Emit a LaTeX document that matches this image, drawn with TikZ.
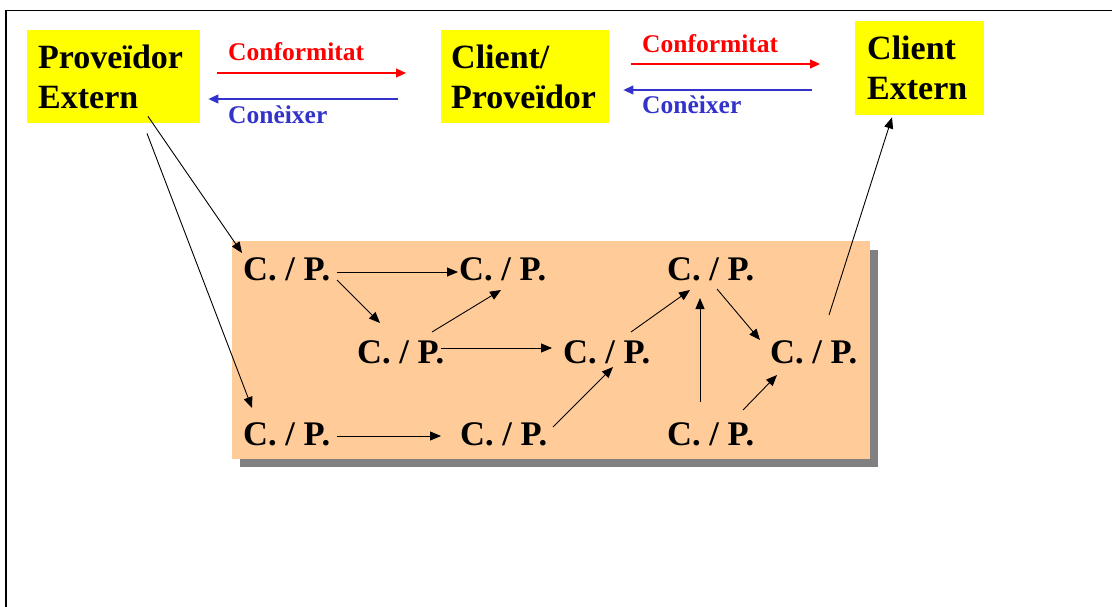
\documentclass[tikz,border=0pt]{standalone}
\usepackage{fontspec}
\setmainfont{Liberation Serif}
\usetikzlibrary{arrows.meta}
\definecolor{boxyellow}{RGB}{255,255,0}
\definecolor{panelorange}{RGB}{255,204,153}
\definecolor{panelshadow}{RGB}{128,128,128}
\definecolor{flowred}{RGB}{255,0,0}
\definecolor{flowblue}{RGB}{51,51,204}
\begin{document}
\begin{tikzpicture}[x=1pt,y=-1pt,
  arr/.style={-{Triangle[length=11pt,width=9pt]}, line width=0.9pt},
  flowarr/.style={-{Triangle[length=10pt,width=9pt]}, line width=1.2pt},
  cpnode/.style={inner sep=0pt, anchor=base west,
    font=\fontsize{34.5}{40}\selectfont\bfseries},
  namebox/.style={fill=boxyellow, anchor=north west, align=left,
    inner ysep=0pt, font=\fontsize{34}{40}\selectfont\bfseries},
  flowlabel/.style={inner sep=0pt, anchor=base west,
    font=\fontsize{25.5}{30}\selectfont\bfseries}]
\clip (0,0) rectangle (1112,606);

% outer frame
\draw[line width=1.8pt] (6,620) -- (6,10.5) -- (1130,10.5);

% external parties and the intermediate client/supplier
\node[namebox, text width=151pt, inner xsep=11pt, minimum height=93pt]
  (pe) at (27,30) {Proveïdor\\Extern};
\node[namebox, text width=148pt, inner xsep=10pt, minimum height=93pt]
  (cp) at (441,30) {Client/\\Proveïdor};
\node[namebox, text width=105pt, inner xsep=12pt, minimum height=94pt]
  (ce) at (855,21) {Client\\Extern};

% flows between the parties
\node[flowlabel, text=flowred] (conf1) at (228,60) {Conformitat};
\node[flowlabel, text=flowblue] (con1) at (228,123) {Conèixer};
\node[flowlabel, text=flowred] (conf2) at (642,52) {Conformitat};
\node[flowlabel, text=flowblue] (con2) at (642,113) {Conèixer};

\draw[flowarr, flowred] ([shift={(17,43)}]pe.north east) -- ([shift={(-35,43)}]cp.north west);
\draw[flowarr, flowblue] ([shift={(-43,69)}]cp.north west) -- ([shift={(8,69)}]pe.north east);
\draw[flowarr, flowred] ([shift={(22,34)}]cp.north east) -- ([shift={(-35,43)}]ce.north west);
\draw[flowarr, flowblue] ([shift={(-43,69)}]ce.north west) -- ([shift={(14,60)}]cp.north east);

% internal network panel
\fill[panelshadow] (240,250) rectangle (878,467);
\fill[panelorange] (232,241) rectangle (870,459);

\node[cpnode] (n1) at (243,280) {C. / P.};
\node[cpnode] (n2) at (459,280) {C. / P.};
\node[cpnode] (n3) at (357,363) {C. / P.};
\node[cpnode] (n4) at (243,445) {C. / P.};
\node[cpnode] (n5) at (460,445) {C. / P.};
\node[cpnode] (n6) at (563,363) {C. / P.};
\node[cpnode] (n7) at (667,280) {C. / P.};
\node[cpnode] (n8) at (667,445) {C. / P.};
\node[cpnode] (n9) at (770,363) {C. / P.};

% internal links
\draw[arr] ([shift={(94,-8)}]n1.base west) -- ([shift={(-1,-8)}]n2.base west);
\draw[arr] ([shift={(94,0)}]n1.base west) -- ([shift={(23,-40)}]n3.base west);
\draw[arr] ([shift={(75,-31)}]n3.base west) -- ([shift={(42,10)}]n2.base west);
\draw[arr] ([shift={(84,-15)}]n3.base west) -- ([shift={(-11,-15)}]n6.base west);
\draw[arr] ([shift={(94,-9)}]n4.base west) -- ([shift={(-19,-9)}]n5.base west);
\draw[arr] ([shift={(93,-18)}]n5.base west) -- ([shift={(50,4)}]n6.base west);
\draw[arr] ([shift={(68,-31)}]n6.base west) -- ([shift={(23,10)}]n7.base west);
\draw[arr] ([shift={(33,-43)}]n8.base west) -- ([shift={(33,18)}]n7.base west);
\draw[arr] ([shift={(50,9)}]n7.base west) -- ([shift={(-10,-23)}]n9.base west);
\draw[arr] ([shift={(76,-35)}]n8.base west) -- ([shift={(7,12)}]n9.base west);

% links to the external parties
\draw[arr] ([shift={(59,-48)}]n9.base west) -- ([shift={(37,2)}]ce.south west);
\draw[arr] ([shift={(121,-7)}]pe.south west) -- ([shift={(-1,-27)}]n1.base west);
\draw[arr] ([shift={(120,10)}]pe.south west) -- ([shift={(9,-37)}]n4.base west);
\end{tikzpicture}
\end{document}
